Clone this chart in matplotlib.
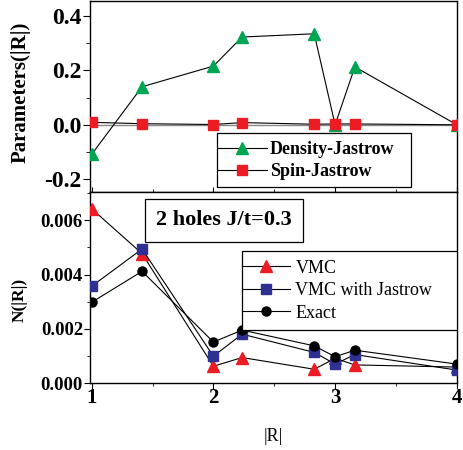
import numpy as np
import matplotlib
matplotlib.use("Agg")
import matplotlib.pyplot as plt
from matplotlib.ticker import MultipleLocator
from matplotlib.patches import Rectangle

plt.rcParams["font.family"] = ["Liberation Serif", "DejaVu Serif"]

# lattice distances |R|
r = [1.0, np.sqrt(2), 2.0, np.sqrt(5), np.sqrt(8), 3.0, np.sqrt(10), 4.0]

# top panel: Jastrow parameters
density_jastrow = [-0.109, 0.140, 0.216, 0.323, 0.335, 0.0, 0.213, 0.0]
spin_jastrow = [0.009, 0.004, 0.001, 0.008, 0.002, 0.003, 0.003, 0.0]

# bottom panel: N(|R|)
vmc = [0.00642, 0.00477, 0.00063, 0.00095, 0.00052, 0.00092, 0.00068, 0.00060]
vmc_jastrow = [0.00357, 0.00494, 0.00100, 0.00181, 0.00114, 0.00071, 0.00106, 0.00049]
exact = [0.00298, 0.00412, 0.00152, 0.00196, 0.00138, 0.00098, 0.00122, 0.00071]

green = "#00a651"
red = "#ed1c24"
blue = "#2e3192"

fig = plt.figure(figsize=(4.63, 4.5), dpi=100)
ax1 = fig.add_axes([0.194, 0.573, 0.794, 0.425])
ax2 = fig.add_axes([0.194, 0.148, 0.794, 0.425])

# Top panel
ax1.axhline(0, color="#888888", lw=1.0, zorder=1)
ax1.plot(r, density_jastrow, color="black", lw=0.8, marker="^", ms=8.5,
         mfc=green, mec=green, label="Density-Jastrow", zorder=3)
ax1.plot(r, spin_jastrow, color="black", lw=0.8, marker="s", ms=6.5,
         mfc=red, mec=red, label="Spin-Jastrow", zorder=3)
ax1.set_xlim(0.985, 4.005)
ax1.set_ylim(-0.248, 0.456)
ax1.yaxis.set_minor_locator(MultipleLocator(0.1))
ax1.xaxis.set_major_locator(MultipleLocator(1))
ax1.xaxis.set_minor_locator(MultipleLocator(0.5))
ax1.set_yticks([-0.2, 0.0, 0.2, 0.4])
ax1.set_yticklabels(["-0.2", "0.0", "0.2", "0.4"], fontsize=17, fontweight="bold")
ax1.tick_params(axis="x", which="both", direction="in", labelbottom=False)
ax1.tick_params(axis="y", which="major", direction="out", length=5, pad=1)
ax1.tick_params(axis="y", which="minor", direction="out", length=3)
ax1.set_ylabel("Parameters(|R|)", fontsize=15, fontweight="bold")
ax1.yaxis.set_label_coords(-0.16, 0.52)

# legend box drawn as a plain rectangle so the handles sit flush with its edge
ax1.add_patch(Rectangle((0.346, 0.026), 0.527, 0.282, transform=ax1.transAxes,
                        fc="white", ec="black", lw=0.9, zorder=4))
leg1 = ax1.legend(loc="center left", bbox_to_anchor=(0.349, 0.164),
                  prop={"size": 13, "weight": "bold"}, handlelength=2.7,
                  handletextpad=0.15, frameon=False, borderpad=0,
                  labelspacing=0.26, borderaxespad=0)
leg1.set_zorder(5)

# Bottom panel
ax2.plot(r, vmc, color="black", lw=0.8, marker="^", ms=8.5,
         mfc=red, mec=red, label="VMC", zorder=3)
ax2.plot(r, vmc_jastrow, color="black", lw=0.8, marker="s", ms=6.5,
         mfc=blue, mec=blue, label="VMC with Jastrow", zorder=3)
ax2.plot(r, exact, color="black", lw=0.8, marker="o", ms=6.5,
         mfc="black", mec="black", label="Exact", zorder=3)
ax2.set_xlim(0.985, 4.005)
ax2.set_ylim(0, 0.00703)
ax2.yaxis.set_minor_locator(MultipleLocator(0.001))
ax2.xaxis.set_minor_locator(MultipleLocator(0.5))
ax2.set_yticks([0, 0.002, 0.004, 0.006])
ax2.set_yticklabels(["0.000", "0.002", "0.004", "0.006"], fontsize=13.5, fontweight="bold")
ax2.set_xticks([1, 2, 3, 4])
ax2.set_xticklabels(["1", "2", "3", "4"], fontsize=15, fontweight="bold")
ax2.tick_params(which="major", direction="out", length=4, pad=1)
ax2.tick_params(axis="x", which="major", pad=-1)
ax2.tick_params(which="minor", direction="out", length=2.5)
ax2.set_ylabel("N(|R|)", fontsize=12.5, fontweight="bold")
ax2.yaxis.set_label_coords(-0.169, 0.436)
ax2.set_xlabel("|R|", fontsize=13)
ax2.xaxis.set_label_coords(0.5, -0.232)

ax2.add_patch(Rectangle((0.413, 0.279), 0.587, 0.414, transform=ax2.transAxes,
                        fc="white", ec="black", lw=0.9, zorder=4))
leg2 = ax2.legend(loc="center left", bbox_to_anchor=(0.415, 0.485),
                  prop={"size": 13}, handlelength=2.66,
                  handletextpad=0.28, frameon=False, borderpad=0,
                  labelspacing=0.31, borderaxespad=0)
leg2.set_zorder(5)

ax2.text(0.366, 0.852, "2 holes J/t=0.3", transform=ax2.transAxes,
         fontsize=16, fontweight="bold", ha="center", va="center",
         bbox=dict(boxstyle="square,pad=0.5", fc="white", ec="black", lw=0.9),
         zorder=6)

for ax in (ax1, ax2):
    for s in ax.spines.values():
        s.set_linewidth(1.0)

fig.savefig("out.png", dpi=100)
